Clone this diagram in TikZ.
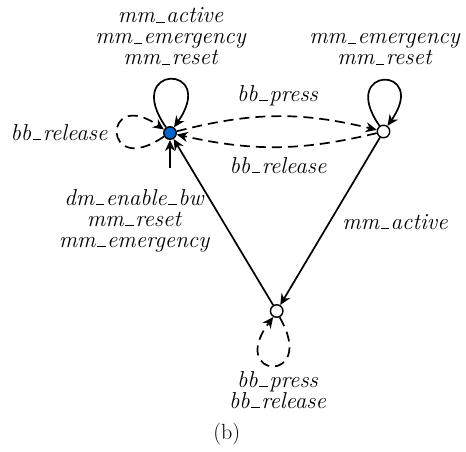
\documentclass[tikz,border=0pt]{standalone}
\usetikzlibrary{arrows.meta}
\definecolor{stateblue}{RGB}{0,102,204}
% short low rule used as the underscore in the event names
\newcommand{\usc}{\kern.07em\vrule width .36em height 0.9pt depth 0pt\kern.07em}
\begin{document}
\begin{tikzpicture}[x=1pt,y=1pt,
  lbl/.style={font=\fontsize{23}{21}\selectfont\itshape, inner sep=0pt, align=center},
  caption/.style={font=\fontsize{22}{24}\selectfont, inner sep=0pt},
  state/.style={circle, draw, line width=1.4pt, minimum size=12.5pt, inner sep=0pt, fill=white},
  initstate/.style={state, fill=stateblue},
  edge/.style={line width=1.7pt, -{Stealth[length=11pt,width=10pt,inset=3.5pt]}},
  dashededge/.style={edge, dash pattern=on 10pt off 6pt},
]
\useasboundingbox[fill=white] (0,0) rectangle (466,-452);

% states
\node[initstate] (A) at (170,-133) {};
\node[state] (B) at (383.5,-131.5) {};
\node[state] (C) at (276.7,-311) {};
\coordinate (init) at (170,-168);

% transitions
\draw[edge] (init) -- (A);
\draw[edge] (A.125) .. controls +(125:78) and +(55:78) .. (A.55);
\draw[dashededge] (A.210) .. controls +(215:76) and +(145:76) .. (A.150);
\draw[edge] (B.125) .. controls +(125:74) and +(55:74) .. (B.55);
\draw[dashededge] (C.-65) .. controls +(-60:78) and +(-127:78) .. (C.-120);
\draw[dashededge] (A) to[bend left=14] (B);
\draw[dashededge] (B) to[bend left=13] (A);
\draw[edge] (C) -- (A);
\draw[edge] (B) -- (C);

% labels (base anchor = baseline of the last line)
\node[lbl, anchor=base] (lA) at (170.5,-65) {mm\usc active\\mm\usc emergency\\mm\usc reset};
\node[lbl, anchor=base] (lB) at (384.5,-64.5) {mm\usc emergency\\mm\usc reset};
\node[lbl, anchor=base] (lAB) at (277.5,-101) {bb\usc press};
\node[lbl, anchor=base] (lBA) at (278,-173) {bb\usc release};
\node[lbl, anchor=base] (lAA) at (59,-140) {bb\usc release};
\node[lbl, anchor=base] (lCA) at (134,-247) {dm\usc enable\usc bw\\mm\usc reset\\mm\usc emergency};
\node[lbl, anchor=base] (lBC) at (395,-229) {mm\usc active};
\node[lbl, anchor=base] (lC) at (277.5,-408) {bb\usc press\\bb\usc release};
\node[caption, anchor=base] (cap) at (226.7,-439) {(b)};
\end{tikzpicture}
\end{document}
